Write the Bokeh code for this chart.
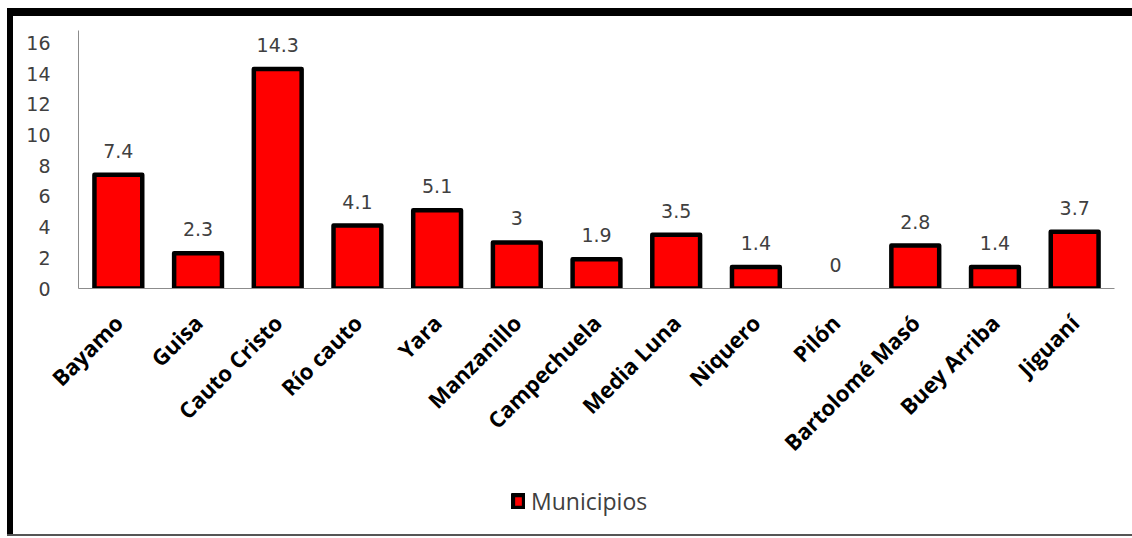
from bokeh.plotting import figure
from bokeh.models import FactorRange, Range1d, ColumnDataSource, Legend, LegendItem, Div, Spacer
from bokeh.layouts import column, row
from bokeh.core.properties import value
from bokeh.embed import file_html
from bokeh.resources import INLINE
import math

categories = ["Bayamo", "Guisa", "Cauto Cristo", "Río cauto", "Yara", "Manzanillo",
              "Campechuela", "Media Luna", "Niquero", "Pilón", "Bartolomé Masó",
              "Buey Arriba", "Jiguaní"]
municipios = [7.4, 2.3, 14.3, 4.1, 5.1, 3, 1.9, 3.5, 1.4, 0, 2.8, 1.4, 3.7]
y_ticks = [0, 2, 4, 6, 8, 10, 12, 14, 16]
series_name = "Municipios"

BAR_FILL, BAR_LINE, BAR_LW = "#ff0000", "black", 4.5

p = figure(width=1119, height=474,
           x_range=FactorRange(*categories, range_padding=0),
           y_range=Range1d(0, 16.8), output_backend="svg", toolbar_location=None,
           min_border_left=65, min_border_right=18, min_border_top=14, min_border_bottom=202)
p.xgrid.grid_line_color = None
p.ygrid.grid_line_color = None
p.outline_line_color = None
p.background_fill_color = "white"
p.border_fill_color = "white"

src = ColumnDataSource(dict(
    x=categories, top=municipios,
    label=[f"{v:g}" for v in municipios],
    la=[0 if v == 0 else 1 for v in municipios],
))
p.vbar(x="x", top="top", width=0.6, source=src, fill_color=BAR_FILL,
       line_color=BAR_LINE, line_width=BAR_LW, line_alpha="la", line_join="round")
p.text(x="x", y="top", text="label", source=src, text_align="center",
       text_baseline="alphabetic", y_offset=-24, text_font=value("DejaVu Sans"),
       text_font_size="19px", text_color="#404040")

p.yaxis.ticker = y_ticks
p.yaxis.major_tick_line_color = None
p.yaxis.minor_tick_line_color = None
p.yaxis.axis_line_color = "#8c8c8c"
p.yaxis.major_label_text_font = "DejaVu Sans"
p.yaxis.major_label_text_font_size = "19px"
p.yaxis.major_label_text_color = "#404040"
p.yaxis.major_label_standoff = 22

p.xaxis.major_tick_line_color = None
p.xaxis.minor_tick_line_color = None
p.xaxis.axis_line_color = "#8c8c8c"
p.xaxis.major_label_orientation = math.pi / 4
p.xaxis.major_label_text_font = "Open Sans"
p.xaxis.major_label_text_font_style = "bold"
p.xaxis.major_label_text_font_size = "22px"
p.xaxis.major_label_text_color = "black"
p.xaxis.major_label_standoff = 24

# legend strip below the chart (its bars' factors are not on its range, so none is drawn)
p2 = figure(width=1119, height=44, x_range=FactorRange(series_name),
            y_range=Range1d(100, 101), output_backend="svg", toolbar_location=None,
            min_border=0)
p2.axis.visible = False
p2.grid.visible = False
p2.outline_line_color = None
legend_bars = p2.vbar(x="x", top="top", width=0.6, source=src, fill_color=BAR_FILL,
                      line_color=BAR_LINE, line_width=BAR_LW, line_join="round")
legend = Legend(items=[LegendItem(label=series_name, renderers=[legend_bars])],
                location=(433, 17), orientation="horizontal",
                padding=0, margin=0, spacing=0, glyph_width=14, glyph_height=16,
                label_standoff=6, border_line_color=None, background_fill_alpha=0,
                label_text_font="Open Sans", label_text_font_size="23px",
                label_text_color="#404040")
p2.add_layout(legend, "center")

def bar(w, h, color):
    return Div(text="", width=w, height=h, margin=0, styles={"background-color": color})

layout = column(
    Spacer(width=1132, height=8, margin=0),
    row(Spacer(width=7, height=8, margin=0), bar(1125, 8, "black")),
    row(Spacer(width=7, height=518, margin=0), bar(6, 518, "black"), column(p, p2)),
    row(Spacer(width=7, height=2, margin=0), bar(1125, 2, "#555555")),
)

open("out.html", "w").write(file_html(layout, INLINE))
